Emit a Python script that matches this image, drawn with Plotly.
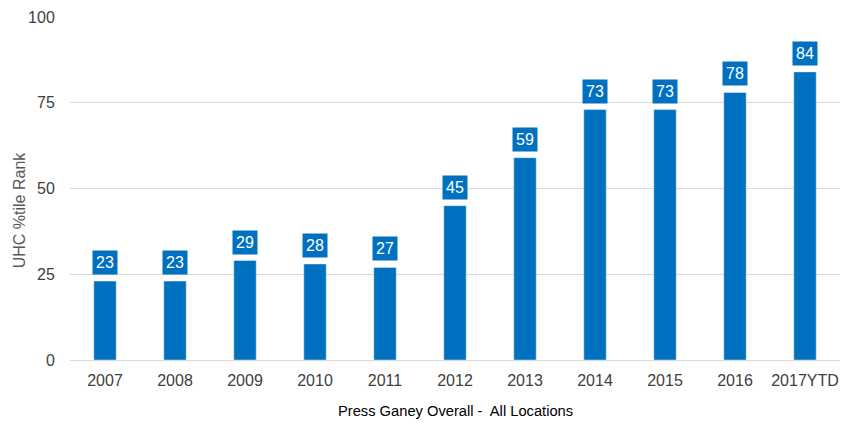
import plotly.graph_objects as go

categories = ["2007", "2008", "2009", "2010", "2011", "2012", "2013", "2014", "2015", "2016", "2017YTD"]
values = [23, 23, 29, 28, 27, 45, 59, 73, 73, 78, 84]
y_ticks = [0, 25, 50, 75, 100]

BLUE = "#0070C0"
FONT = "Liberation Sans, Arial"

fig = go.Figure()
fig.add_trace(go.Bar(x=categories, y=values, marker_color=BLUE, width=0.32, hoverinfo="skip"))

for i, v in enumerate(values):
    fig.add_annotation(x=i, y=v, text=str(v), showarrow=False, yanchor="bottom", yshift=6,
                       bgcolor=BLUE, borderpad=3,
                       font=dict(family=FONT, size=16, color="white"))

# axis titles
fig.add_annotation(xref="paper", yref="paper", x=0.5, y=-0.149, yanchor="middle", xanchor="center",
                   text="Press Ganey Overall -  All Locations", showarrow=False,
                   font=dict(family=FONT, size=14.7, color="#000000"))
fig.add_annotation(xref="paper", yref="paper", x=-0.066, y=0.437, xanchor="center", yanchor="middle",
                   text="UHC %tile Rank", textangle=-90, showarrow=False,
                   font=dict(family=FONT, size=16, color="#595959"))

# page body has an 8px default margin, so the figure is sized to fit the window
fig.update_layout(
    width=842, height=422,
    margin=dict(l=62, r=10, t=9, b=70, autoexpand=False),
    plot_bgcolor="white", paper_bgcolor="white",
    showlegend=False,
    font=dict(family=FONT, color="#404040"),
    xaxis=dict(type="category", range=[-0.5, len(categories) - 0.5], automargin=False,
               tickfont=dict(size=16, color="#404040"), showgrid=False, showline=False,
               ticks="outside", ticklen=6, tickcolor="white"),
    yaxis=dict(range=[0, 100], tickvals=y_ticks, tickfont=dict(size=16, color="#404040"), automargin=False,
               gridcolor="#D9D9D9", gridwidth=1, zeroline=True, zerolinecolor="#D9D9D9", zerolinewidth=1,
               ticks="outside", ticklen=11, tickcolor="white"),
)

fig.write_html("out.html")
